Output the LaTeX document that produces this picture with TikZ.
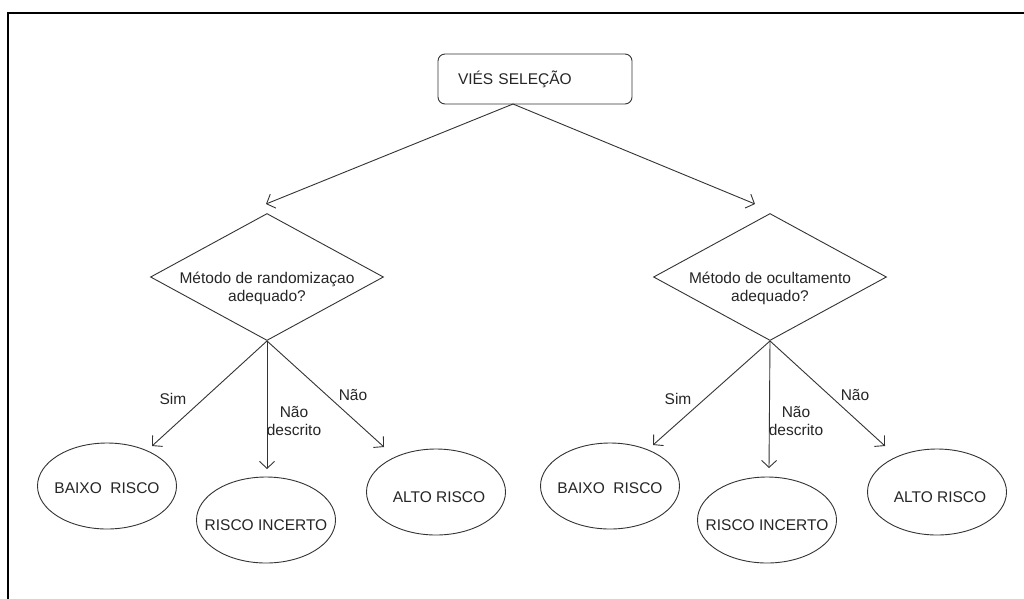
\documentclass[tikz,border=0pt]{standalone}
\usepackage{fontspec}
\setmainfont{Liberation Sans}
\usetikzlibrary{shapes.geometric,arrows.meta}
\begin{document}
\begin{tikzpicture}[x=1pt,y=-1pt,
  every node/.style={font=\fontsize{15.5}{18}\selectfont, text=black!85},
  ln/.style={draw=black!80, line width=0.9pt},
  conn/.style={ln, -{Straight Barb[length=7pt,width=15pt,line width=0.9pt]}},
  rootbox/.style={ln, rounded corners=7pt, minimum height=50pt, text width=154pt, inner xsep=20pt, inner ysep=0pt, align=left},
  question/.style={ln, diamond, minimum width=233pt, minimum height=127pt, inner sep=0pt},
  outcome/.style={ln, ellipse, minimum width=139pt, minimum height=86pt, inner sep=0pt},
  elabel/.style={inner sep=0pt, align=center},
]
\useasboundingbox (0,0) rectangle (1024,598);
\fill[white] (0,0) rectangle (1024,598);
\draw[line width=2pt, line cap=rect] (1024,13) -- (8,13) -- (8,598);

% root
\node[rootbox] (root) at (535,79) {VIÉS SELEÇÃO};
\coordinate (rs) at (513,104);

% questions
\node[question, label={[elabel,yshift=-11pt]center:Método de randomizaçao\\adequado?}] (q1) at (267,277) {};
\node[question, label={[elabel,yshift=-11pt]center:Método de ocultamento\\adequado?}] (q2) at (770,277) {};

\coordinate (q1in) at (266,204);
\coordinate (q2in) at (755,204);
\draw[conn] (rs) -- (q1in);
\draw[conn] (rs) -- (q2in);

% outcomes left
\node[outcome, label={[elabel,yshift=-2pt]center:BAIXO\ \ RISCO}] (b1) at (107,486) {};
\node[outcome, label={[elabel,yshift=-5pt]center:RISCO INCERTO}] (i1) at (266,520) {};
\node[outcome, label={[elabel,yshift=-5pt,xshift=3pt]center:ALTO RISCO}] (a1) at (436,492) {};
% outcomes right
\node[outcome, label={[elabel,yshift=-2pt]center:BAIXO\ \ RISCO}] (b2) at (610,486) {};
\node[outcome, label={[elabel,yshift=-5pt]center:RISCO INCERTO}] (i2) at (767,520) {};
\node[outcome, label={[elabel,yshift=-5pt,xshift=3pt]center:ALTO RISCO}] (a2) at (937,492) {};

% arrow ends
\coordinate (b1in) at (152,446);
\coordinate (i1in) at (267,469);
\coordinate (a1in) at (384,447);
\coordinate (b2in) at (653,445);
\coordinate (i2in) at (769,468);
\coordinate (a2in) at (885,446);

\draw[conn] (q1.south) -- (b1in);
\draw[conn] (q1.south) -- (i1in);
\draw[conn] (q1.south) -- (a1in);
\draw[conn] (q2.south) -- (b2in);
\draw[conn] (q2.south) -- (i2in);
\draw[conn] (q2.south) -- (a2in);

% edge labels
\node[elabel] (s1) at (173,399) {Sim};
\node[elabel] (n1) at (353,395) {Não};
\node[elabel] (d1) at (294,421) {Não\\descrito};
\node[elabel] (s2) at (678,399) {Sim};
\node[elabel] (n2) at (855,395) {Não};
\node[elabel] (d2) at (796,421) {Não\\descrito};
\end{tikzpicture}
\end{document}
